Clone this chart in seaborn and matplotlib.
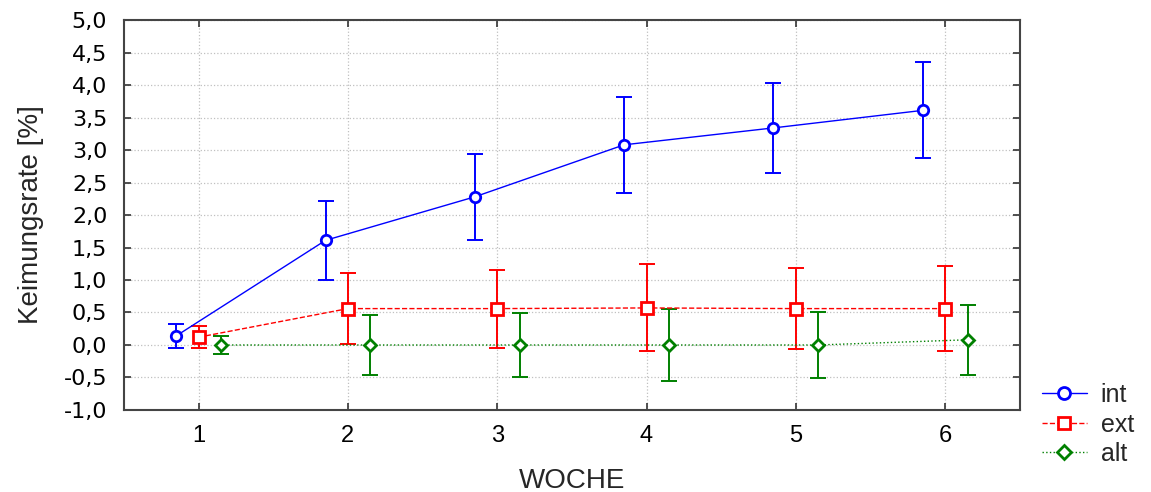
import matplotlib
matplotlib.use("Agg")
import matplotlib.pyplot as plt
from matplotlib.ticker import FuncFormatter, MultipleLocator
import seaborn as sns
import pandas as pd

# data
weeks = [1, 2, 3, 4, 5, 6]
int_mean = [0.14, 1.61, 2.28, 3.08, 3.34, 3.61]
int_err = [0.18, 0.61, 0.66, 0.74, 0.69, 0.74]
ext_mean = [0.12, 0.56, 0.56, 0.57, 0.56, 0.56]
ext_err = [0.17, 0.55, 0.60, 0.67, 0.62, 0.66]
alt_mean = [0.00, 0.00, 0.00, 0.00, 0.00, 0.08]
alt_err = [0.14, 0.46, 0.49, 0.55, 0.51, 0.54]

sns.set_theme(style="ticks")
plt.rcParams["font.family"] = ["Liberation Sans", "DejaVu Sans"]

series = [
    ("int", int_mean, int_err, -0.15, "#0000ff", "o", 7.5, "-"),
    ("ext", ext_mean, ext_err, 0.0, "#ff0000", "s", 8.0, "--"),
    ("alt", alt_mean, alt_err, 0.15, "#008000", "D", 6.5, ":"),
]

rows = []
for name, mean, err, off, *_ in series:
    for w, m in zip(weeks, mean):
        rows.append({"x": w + off, "y": m, "grp": name})
df = pd.DataFrame(rows)

fig = plt.figure(figsize=(11.51, 4.92), dpi=100)
ax = fig.add_axes([0.1077, 0.1667, 0.7783, 0.7926])

for name, mean, err, off, color, marker, ms, ls in series:
    sub = df[df["grp"] == name]
    ax.errorbar(sub["x"], sub["y"], yerr=err, fmt="none", ecolor=color,
                elinewidth=1.4, capsize=6, capthick=1.4, zorder=2)
    sns.lineplot(data=sub, x="x", y="y", ax=ax, color=color, linestyle=ls,
                 linewidth=1.0, marker=marker, markersize=ms,
                 markerfacecolor="white", markeredgecolor=color,
                 markeredgewidth=2.0, label=name, zorder=3)

ax.set_xlim(0.5, 6.5)
ax.set_ylim(-1.0, 5.0)
ax.set_xticks(weeks)
ax.yaxis.set_major_locator(MultipleLocator(0.5))
ax.yaxis.set_major_formatter(FuncFormatter(lambda v, p: f"{v:.1f}".replace(".", ",")))
ax.grid(True, linestyle=":", color="#c0c0c0", linewidth=0.9)
ax.tick_params(direction="in", length=5, width=1.2, top=True, right=True,
               colors="#333333", labelcolor="black")
ax.tick_params(axis="x", labelsize=17, pad=11)
ax.tick_params(axis="y", labelsize=16, pad=12)
for lab in ax.get_yticklabels():
    lab.set_family(["DejaVu Sans"])
for sp in ax.spines.values():
    sp.set_color("#444444")
    sp.set_linewidth(1.5)

ax.set_xlabel("WOCHE", fontsize=20, labelpad=15)
ax.set_ylabel("Keimungsrate [%]", fontsize=20, labelpad=14)

ax.legend(loc="lower left", bbox_to_anchor=(0.89, 0.017), bbox_transform=fig.transFigure,
          frameon=False, fontsize=18, handlelength=1.8, labelspacing=0.22,
          handletextpad=0.55, borderpad=0.2, markerscale=1.15)

fig.savefig("out.png", dpi=100)
